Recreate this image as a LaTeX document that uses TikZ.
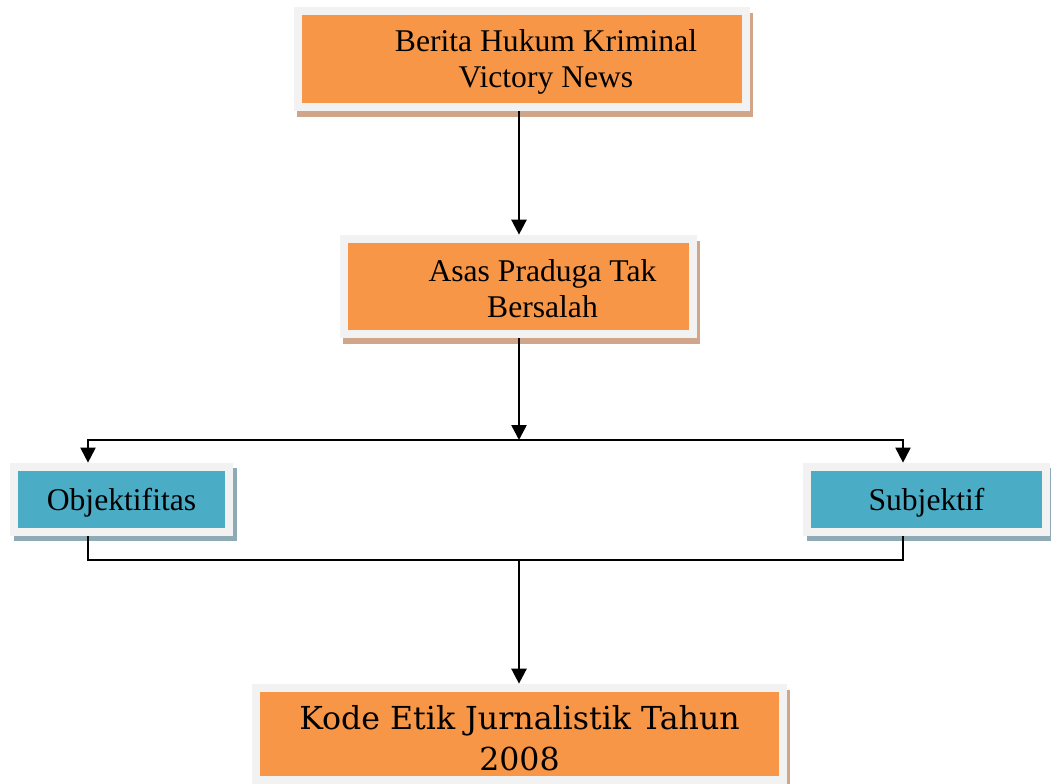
\documentclass[tikz,border=0pt]{standalone}
\usepackage{fontspec}
\setmainfont{Liberation Serif}
\newfontfamily\kodefont{DejaVu Serif}
\usetikzlibrary{arrows.meta,shadows}

\definecolor{boxorange}{HTML}{F79646}
\definecolor{boxcyan}{HTML}{4BACC6}
\definecolor{framegray}{HTML}{F2F2F2}
\definecolor{shadeorange}{HTML}{CFA68A}
\definecolor{shadecyan}{HTML}{8EAAB5}

\tikzset{
  framebox/.style = {fill=framegray, inner sep=0pt,
    path picture={\fill[#1] ([shift={(0.16cm,0.16cm)}]path picture bounding box.south west)
      rectangle ([shift={(-0.16cm,-0.16cm)}]path picture bounding box.north east);}},
  orangebox/.style = {framebox=boxorange,
    drop shadow={shadow xshift=0.06cm, shadow yshift=-0.12cm, fill=shadeorange, opacity=1}},
  cyanbox/.style = {framebox=boxcyan, text height=0.52cm, text depth=0.08cm,
    drop shadow={shadow xshift=0.08cm, shadow yshift=-0.1cm, fill=shadecyan, opacity=1}},
  boxtext/.style = {align=center, font=\fontsize{18}{20.5}\selectfont},
  flow/.style = {line width=0.05cm, -{Triangle[length=0.3cm, width=0.3cm]}},
  branch/.style = {line width=0.04cm},
}

\begin{document}
\begin{tikzpicture}[x=0.02cm, y=-0.02cm]
      \useasboundingbox (0,0) rectangle (1051,784);
      % place nodes
      \node (news) [orangebox, minimum width=9.12cm, minimum height=2.08cm,
        label={[boxtext, xshift=0.48cm, yshift=-0.06cm]center:Berita Hukum Kriminal\\Victory News}] at (522,59) {};
      \node (asas) [orangebox, minimum width=7.14cm, minimum height=2.06cm,
        label={[boxtext, xshift=0.48cm, yshift=-0.04cm]center:Asas Praduga Tak\\Bersalah}] at (518.5,286.5) {};

      \node (objek) [cyanbox, boxtext, minimum width=4.46cm, minimum height=1.46cm] at (121.5,499.5) {Objektifitas};
      \node (subjek) [cyanbox, boxtext, minimum width=4.94cm, minimum height=1.46cm] at (926.5,499.5) {Subjektif};

      \node (kode) [orangebox, minimum width=10.7cm, minimum height=2.0cm,
        label={[boxtext, yshift=-0.08cm, font=\kodefont\fontsize{18}{23.3}\selectfont]center:Kode Etik Jurnalistik Tahun\\2008}] at (519.5,734) {};

      \coordinate (split) at (519,440);
      \coordinate (join) at (519,560);
      % draw edges
      \draw [flow] (news.south -| split) -- (asas.north -| split);
      \draw [flow] (asas.south -| split) -- (split);

      \draw [branch, -{Triangle[length=0.3cm, width=0.3cm]}] (split) -| ([xshift=-0.67cm]objek.north);
      \draw [branch, -{Triangle[length=0.3cm, width=0.3cm]}] (split) -| ([xshift=-0.47cm]subjek.north);

      \draw [branch] ([xshift=-0.67cm]objek.south) |- (join) -| ([xshift=-0.47cm]subjek.south);
      \draw [flow] (join) -- (kode.north -| join);
    \end{tikzpicture}
\end{document}
